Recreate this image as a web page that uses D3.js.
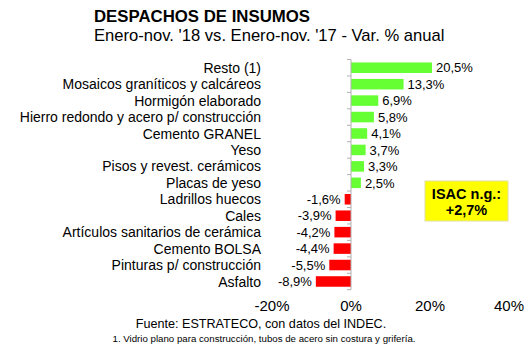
<!DOCTYPE html>
<html><head><meta charset="utf-8">
<script src="https://cdn.jsdelivr.net/npm/d3@7"></script>
<style>body{margin:0;background:#fff}svg{display:block}</style>
</head><body>
<svg id="c" width="530" height="354"></svg>
<script>
const categories = ["Resto (1)","Mosaicos graníticos y calcáreos","Hormigón elaborado","Hierro redondo y acero p/ construcción","Cemento GRANEL","Yeso","Pisos y revest. cerámicos","Placas de yeso","Ladrillos huecos","Cales","Artículos sanitarios de cerámica","Cemento BOLSA","Pinturas p/ construcción","Asfalto"];
const values = [20.5,13.3,6.9,5.8,4.1,3.7,3.3,2.5,-1.6,-3.9,-4.2,-4.4,-5.5,-8.9];
const xTicks = [-20,0,20,40];
const title = "DESPACHOS DE INSUMOS";
const subtitle = "Enero-nov. '18 vs. Enero-nov. '17 - Var. % anual";
const boxLines = ["ISAC n.g.:","+2,7%"];
const source = "Fuente: ESTRATECO, con datos del INDEC.";
const note = "1. Vidrio plano para construcción, tubos de acero sin costura y grifería.";

const svg = d3.select("#c");
const font = "Arial, 'Liberation Sans', sans-serif";
const x = d3.scaleLinear().domain([-20,40]).range([272,509]);
const y = d3.scaleBand().domain(categories).range([59.5,289.7]).paddingInner(0.36).paddingOuter(0.18);
const fmt = v => d3.format(".1f")(v).replace(".", ",").replace("\u2212","-") + "%";

svg.append("text").attr("x",94).attr("y",22).attr("font-family",font).attr("font-weight","bold").attr("font-size",16.8).text(title);
svg.append("text").attr("x",94).attr("y",41).attr("font-family",font).attr("font-size",16.6).text(subtitle);

// bars
svg.selectAll("rect.bar").data(values).join("rect")
  .attr("x",d=>x(Math.min(0,d))).attr("width",d=>Math.abs(x(d)-x(0)))
  .attr("y",(d,i)=>y(categories[i])).attr("height",y.bandwidth())
  .attr("fill",d=>d>=0?"#66ff33":"#ff0000");

// axis line + ticks
const step = y.step();
const ticksY = d3.range(categories.length+1).map(i=>y(categories[0]) - y.paddingInner()*step/2 + i*step);
svg.append("line").attr("x1",x(0)).attr("x2",x(0)).attr("y1",ticksY[0]).attr("y2",ticksY[ticksY.length-1]).attr("stroke","#b0b0b0").attr("stroke-width",1);
svg.selectAll("line.tk").data(ticksY).join("line").attr("x1",x(0)-4).attr("x2",x(0)).attr("y1",d=>d).attr("y2",d=>d).attr("stroke","#b0b0b0");

// category labels
svg.selectAll("text.cat").data(categories).join("text")
  .attr("x",261).attr("y",d=>y(d)+y.bandwidth()/2).attr("dy","0.36em")
  .attr("text-anchor","end").attr("font-family",font).attr("font-size",14).text(d=>d);

// value labels
svg.selectAll("text.val").data(values).join("text")
  .attr("x",d=>d>=0?x(d)+4:x(d)-4).attr("y",(d,i)=>y(categories[i])+y.bandwidth()/2).attr("dy","0.36em")
  .attr("text-anchor",d=>d>=0?"start":"end").attr("font-family",font).attr("font-size",13).text(fmt);

// x tick labels
svg.selectAll("text.xt").data(xTicks).join("text")
  .attr("x",d=>x(d)).attr("y",311).attr("text-anchor","middle").attr("font-family",font).attr("font-size",15).text(d=>d+"%");

// yellow box
svg.append("rect").attr("x",425).attr("y",181).attr("width",83).attr("height",40).attr("fill","#ffff00").attr("stroke","#e0e0a0");
boxLines.forEach((t,i)=>svg.append("text").attr("x",466.5).attr("y",199+i*16).attr("text-anchor","middle").attr("font-family",font).attr("font-weight","bold").attr("font-size",14.5).text(t));

svg.append("text").attr("x",261).attr("y",328).attr("text-anchor","middle").attr("font-family",font).attr("font-size",12.6).text(source);
svg.append("text").attr("x",264).attr("y",342).attr("text-anchor","middle").attr("font-family",font).attr("font-size",9.7).text(note);
</script>
</body></html>
